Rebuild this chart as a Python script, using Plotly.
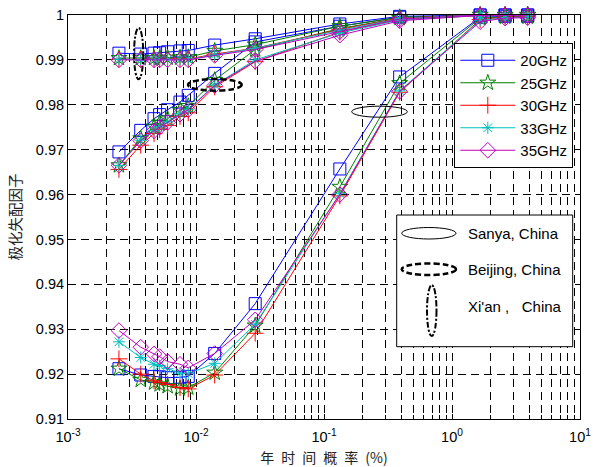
import plotly.graph_objects as go

# ---- data ----
p = [0.0025, 0.0037, 0.0047, 0.0052, 0.006, 0.0075, 0.0087, 0.014, 0.029, 0.133, 0.39, 1.66, 2.6, 3.9]
freqs = ["20GHz", "25GHz", "30GHz", "33GHz", "35GHz"]

sanya_20 = [0.9212, 0.9198, 0.9195, 0.9194, 0.9192, 0.9193, 0.9195, 0.9246, 0.9357, 0.9657, 0.9862, 0.9995, 0.9997, 0.9997]
sanya_25 = [0.9212, 0.9187, 0.9181, 0.9177, 0.9173, 0.9168, 0.9170, 0.9203, 0.9308, 0.9617, 0.9848, 0.9993, 0.9996, 0.9996]
sanya_30 = [0.9234, 0.9200, 0.9185, 0.9181, 0.9177, 0.9170, 0.9167, 0.9198, 0.9291, 0.9597, 0.9828, 0.9990, 0.9995, 0.9996]
sanya_33 = [0.9272, 0.9237, 0.9222, 0.9219, 0.9212, 0.9202, 0.9201, 0.9224, 0.9311, 0.9602, 0.9831, 0.9988, 0.9994, 0.9995]
sanya_35 = [0.9297, 0.9260, 0.9245, 0.9239, 0.9228, 0.9222, 0.9214, 0.9246, 0.9321, 0.9600, 0.9830, 0.9985, 0.9993, 0.9994]

beijing_20 = [0.9695, 0.9743, 0.9769, 0.9778, 0.9789, 0.9806, 0.9821, 0.9870, 0.9940, 0.9975, 0.9995, 1.0, 1.0, 1.0]
beijing_25 = [0.9665, 0.9725, 0.9751, 0.9760, 0.9769, 0.9788, 0.9797, 0.9855, 0.9923, 0.9970, 0.9993, 1.0, 1.0, 1.0]
beijing_30 = [0.9656, 0.9710, 0.9736, 0.9745, 0.9754, 0.9774, 0.9782, 0.9840, 0.9896, 0.9962, 0.9990, 0.9999, 1.0, 1.0]
beijing_33 = [0.9665, 0.9721, 0.9743, 0.9751, 0.9762, 0.9780, 0.9790, 0.9844, 0.9900, 0.9960, 0.9989, 0.9999, 1.0, 1.0]
beijing_35 = [0.9665, 0.9720, 0.9742, 0.9750, 0.9761, 0.9779, 0.9789, 0.9843, 0.9897, 0.9955, 0.9987, 0.9999, 1.0, 1.0]

xian_20 = [0.9915, 0.9913, 0.9915, 0.9916, 0.9918, 0.9920, 0.9921, 0.9933, 0.9947, 0.9980, 0.9997, 1.0, 1.0, 1.0]
xian_25 = [0.9904, 0.9904, 0.9904, 0.9904, 0.9905, 0.9905, 0.9906, 0.9920, 0.9934, 0.9975, 0.9995, 1.0, 1.0, 1.0]
xian_30 = [0.9901, 0.9901, 0.9901, 0.9901, 0.9901, 0.9902, 0.9902, 0.9913, 0.9926, 0.9968, 0.9993, 1.0, 1.0, 1.0]
xian_33 = [0.9901, 0.9901, 0.9901, 0.9901, 0.9901, 0.9901, 0.9901, 0.9911, 0.9926, 0.9966, 0.9992, 1.0, 1.0, 1.0]
xian_35 = [0.9900, 0.9900, 0.9900, 0.9900, 0.9900, 0.9900, 0.9900, 0.9910, 0.9923, 0.9963, 0.9991, 1.0, 1.0, 1.0]

x_tickvals = [0.001, 0.01, 0.1, 1, 10]
x_ticktext = ["10<sup>-3</sup>", "10<sup>-2</sup>", "10<sup>-1</sup>", "10<sup>0</sup>", "10<sup>1</sup>"]
y_tickvals = [0.91, 0.92, 0.93, 0.94, 0.95, 0.96, 0.97, 0.98, 0.99, 1.0]
y_ticktext = ["0.91", "0.92", "0.93", "0.94", "0.95", "0.96", "0.97", "0.98", "0.99", "1"]
region_names = ["Sanya, China", "Beijing, China", "Xi'an ,\u00a0\u00a0\u00a0China"]
x_title = "年\u2002时\u2002间\u2002概\u2002率\u2002(%)"
y_title = "极化失配因子"

series = {
    "20GHz": [sanya_20, beijing_20, xian_20],
    "25GHz": [sanya_25, beijing_25, xian_25],
    "30GHz": [sanya_30, beijing_30, xian_30],
    "33GHz": [sanya_33, beijing_33, xian_33],
    "35GHz": [sanya_35, beijing_35, xian_35],
}

# ---- styles ----
colors = {"20GHz": "#0000FF", "25GHz": "#008000", "30GHz": "#FF0000",
          "33GHz": "#00BFBF", "35GHz": "#BF00BF"}
symbols = {"20GHz": "square-open", "25GHz": "star-open", "30GHz": "cross-thin-open",
           "33GHz": "asterisk-open", "35GHz": "diamond-open"}
sizes = {"20GHz": 12, "25GHz": 12, "30GHz": 12, "33GHz": 10, "35GHz": 12}

FONT = "Liberation Sans, Arial, sans-serif"
CJK = "Noto Sans CJK SC, sans-serif"

fig = go.Figure()
for f in freqs:
    for i, ys in enumerate(series[f]):
        fig.add_trace(go.Scatter(
            x=p, y=ys, mode="lines+markers", name=f, legendgroup=f,
            showlegend=(i == 0), cliponaxis=False,
            line=dict(color=colors[f], width=1),
            marker=dict(symbol=symbols[f], size=sizes[f], color=colors[f],
                        line=dict(color=colors[f], width=1)),
        ))

minor_vals = [m * 10.0 ** e for e in range(-3, 1) for m in range(2, 10)]
GD = "8px,5px"

fig.update_xaxes(
    type="log", range=[-3, 1], tickvals=x_tickvals, ticktext=x_ticktext,
    ticks="inside", ticklen=5, tickcolor="black", ticklabelstandoff=5,
    showline=True, linecolor="black", linewidth=1, mirror="ticks",
    showgrid=True, gridcolor="black", gridwidth=1, griddash=GD,
    minor=dict(tickvals=minor_vals, ticks="inside", ticklen=4, tickcolor="black",
               showgrid=True, gridcolor="black", gridwidth=1, griddash=GD),
    tickfont=dict(family=FONT, size=14.5, color="black"),
    zeroline=False, automargin=False,
    title=dict(text=x_title, font=dict(family=CJK, size=14, color="#222"), standoff=10),
)
fig.update_yaxes(
    range=[0.91, 1.0], tickvals=y_tickvals, ticktext=y_ticktext,
    ticks="inside", ticklen=5, tickcolor="black",
    showline=True, linecolor="black", linewidth=1, mirror="ticks",
    showgrid=True, gridcolor="black", gridwidth=1, griddash=GD,
    tickfont=dict(family=FONT, size=14.5, color="black"),
    zeroline=False, automargin=False,
    title=dict(text=y_title, font=dict(family=CJK, size=14.5, color="#222"), standoff=10),
)

# ellipses marking the regions on the plot (data coords)
shapes = [
    dict(type="circle", xref="x", yref="y", x0=0.1646, x1=0.4475, y0=0.97723, y1=0.97969,
         line=dict(color="black", width=1), layer="above"),
    dict(type="circle", xref="x", yref="y", x0=0.00866, x1=0.02275, y0=0.98314, y1=0.98574,
         line=dict(color="black", width=2.5, dash="6px,3px"), layer="above"),
    dict(type="circle", xref="x", yref="y", x0=0.00328, x1=0.00387, y0=0.98567, y1=0.99710,
         line=dict(color="black", width=2, dash="6px,2px,2px,2px"), layer="above"),
]

# region legend box (paper coords)
L, R, T, B = 68, 580, 15, 419
def px(xp):
    return (xp - L) / (R - L)
def py(yp):
    return (B - yp) / (B - T)

shapes.append(dict(type="rect", xref="paper", yref="paper",
                   x0=px(396.7), x1=px(572.7), y0=py(346.7), y1=py(215),
                   line=dict(color="black", width=1), fillcolor="white", layer="above"))
shapes.append(dict(type="circle", xref="paper", yref="paper",
                   x0=px(401.7), x1=px(456), y0=py(239), y1=py(227.5),
                   line=dict(color="black", width=1), layer="above"))
shapes.append(dict(type="circle", xref="paper", yref="paper",
                   x0=px(401.7), x1=px(456), y0=py(275), y1=py(263.5),
                   line=dict(color="black", width=2.5, dash="6px,3px"), layer="above"))
shapes.append(dict(type="circle", xref="paper", yref="paper",
                   x0=px(427), x1=px(436.5), y0=py(336), y1=py(285),
                   line=dict(color="black", width=2, dash="6px,2px,2px,2px"), layer="above"))

annotations = []
for name, yp in zip(region_names, [233.3, 269.3, 306.7]):
    annotations.append(dict(text=name, xref="paper", yref="paper", x=px(466), y=py(yp),
                            xanchor="left", yanchor="middle", showarrow=False,
                            font=dict(family=FONT, size=15, color="black")))

fig.update_layout(
    width=595, height=467,
    margin=dict(l=L, r=595 - R, t=T, b=467 - B),
    paper_bgcolor="white", plot_bgcolor="white",
    shapes=shapes, annotations=annotations,
    legend=dict(x=px(573.3), y=py(43), xanchor="right", yanchor="top",
                bgcolor="white", bordercolor="black", borderwidth=1,
                font=dict(family=FONT, size=15, color="black"),
                itemwidth=55, tracegroupgap=0),
    showlegend=True,
)

fig.write_html("out.html")
